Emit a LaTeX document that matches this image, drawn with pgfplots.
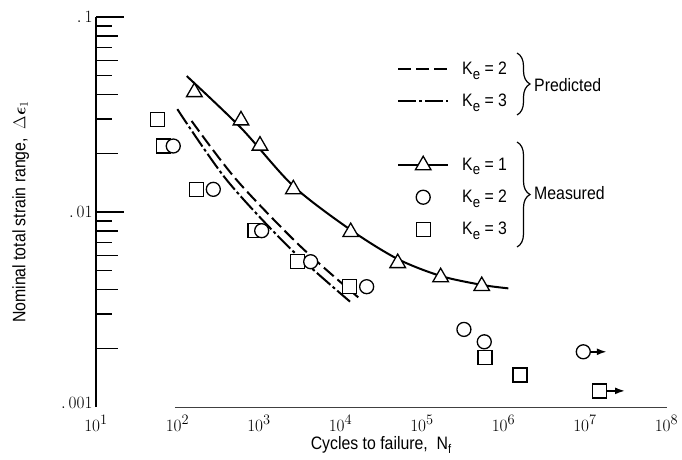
\documentclass[border=0pt]{standalone}
\usepackage{fontspec}
\setmainfont{Liberation Sans}[FakeStretch=0.88]
\usepackage{bm}
\usepackage{pgfplots}
\pgfplotsset{compat=1.18}
\usetikzlibrary{arrows.meta,decorations.pathreplacing}
\newcommand{\Ke}{K\raisebox{-0.45ex}{\fontsize{15}{15}\selectfont e}}
\begin{document}
\begin{tikzpicture}
\path[use as bounding box] (0pt,0pt) rectangle (682pt,459pt);
% overlay: x ticks and short minor y ticks
\begin{axis}[
  at={(96pt,52pt)}, anchor=south west,
  scale only axis, width=570.5pt, height=390pt,
  xmode=log, ymode=log,
  xmin=10, xmax=1e8, ymin=1e-3, ymax=0.1,
  axis lines*=left, tick align=inside, clip=false,
  axis line style={draw=none},
  xtick=\empty,
  minor xtick={100,1000,10000,100000,1000000,10000000,100000000},
  minor tick length=22pt,
  ytick={0.003,0.005,0.007,0.009,0.03,0.05,0.07,0.09},
  yticklabels={,,,,,,,},
  major tick length=16pt,
  yminorticks=false,
  tick style={line width=1.2pt, black},
]
\addplot[draw=none, forget plot] coordinates {(100,0.01)};
\end{axis}
\begin{axis}[
  at={(96pt,52pt)}, anchor=south west,
  scale only axis, width=570.5pt, height=390pt,
  xmode=log, ymode=log,
  xmin=10, xmax=1e8, ymin=1e-3, ymax=0.1,
  axis lines*=left, tick align=inside, clip=false,
  x axis line style={draw=none},
  y axis line style={line width=1.8pt},
  xtick={10,100,1000,10000,100000,1000000,10000000,100000000},
  xtick style={draw=none},
  xminorticks=false,
  ytick={0.01,0.1}, yticklabels={$.\,01$,$.\,1$},
  minor ytick={0.002,0.004,0.006,0.008,0.02,0.04,0.06,0.08},
  major tick length=28pt, minor tick length=22pt,
  ytick style={line width=1.2pt, black},
  extra y ticks={0.001}, extra y tick labels={$.\,001$},
  extra y tick style={major tick length=0pt, yticklabel style={yshift=4pt}},
  tick label style={font=\fontsize{19}{19}\selectfont},
  xticklabel style={yshift=-5pt},
  xlabel={Cycles to failure,\ \ N\textsubscript{f}},
  ylabel={Nominal total strain range,\ \ $\Delta\bm{\epsilon}_{1}$},
  label style={font=\fontsize{18}{20}\selectfont},
  xlabel style={at={(axis description cs:0.5,-0.098)}, anchor=center},
  ylabel style={at={(axis description cs:-0.132,0.5)}, anchor=center},
  legend style={draw=none, fill=none, at={(axis description cs:0.5276,0.8897)}, anchor=north west,
    font=\fontsize{18}{20}\selectfont, row sep=14pt, column sep=11pt, inner sep=0pt},
  legend cell align=left,
  legend image code/.code={\draw[mark repeat=2,mark phase=2,#1] plot coordinates {(0pt,0pt) (25pt,0pt) (50pt,0pt)};},
]
% legend entries
\addlegendimage{black, line width=2pt, dash pattern=on 13pt off 5pt}
\addlegendentry{\Ke{} = 2}
\addlegendimage{black, line width=2pt, dash pattern=on 18pt off 3pt on 3pt off 3pt}
\addlegendentry{\Ke{} = 3}
\addlegendimage{empty legend}
\addlegendentry{\vphantom{\Ke}}
\addlegendimage{black, line width=2pt, mark=triangle*, mark size=9pt, mark options={solid, fill=white, line width=1.3pt}}
\addlegendentry{\Ke{} = 1}
\addlegendimage{only marks, black, mark=*, mark size=7pt, mark options={fill=white, line width=1.3pt}}
\addlegendentry{\Ke{} = 2}
\addlegendimage{only marks, black, mark=square*, mark size=7pt, mark options={fill=white, line width=1.3pt}}
\addlegendentry{\Ke{} = 3}

% x axis line (starts just left of 10^2)
\draw[line width=0.8pt, black!75] (axis cs:93,0.001) -- (axis cs:1e8,0.001);

% predicted K_e = 2 (dashed)
\addplot[forget plot, black, line width=2pt, dash pattern=on 13pt off 5pt, smooth] coordinates {
 (149,0.0293) (532,0.01459) (3184,0.00670) (16520,0.00365)};
% predicted K_e = 3 (dash-dot)
\addplot[forget plot, black, line width=2pt, dash pattern=on 18pt off 3pt on 3pt off 3pt, smooth] coordinates {
 (99.5,0.0337) (402,0.01459) (2399,0.00652) (13090,0.00347)};
% measured K_e = 1 fitted curve
\addplot[forget plot, black, line width=2pt, smooth] coordinates {
 (129.7,0.0498) (601,0.0270) (2636,0.01359) (13340,0.00809) (50350,0.00574) (169400,0.00470) (540700,0.00423) (1146000,0.00406)};

% run-out arrows
\addplot[forget plot, black, line width=1.8pt, -{Latex[length=10pt,width=7pt]}] coordinates {(9.53e6,0.00192) (1.85e7,0.00192)};
\addplot[forget plot, black, line width=1.8pt, -{Latex[length=10pt,width=7pt]}] coordinates {(1.496e7,0.00121) (3.1e7,0.00121)};

% measured markers
\addplot[forget plot, only marks, black, mark=triangle*, mark size=9pt, mark options={fill=white, line width=1.3pt}] coordinates {
 (161,0.0412) (601,0.0295) (1028,0.0219) (2637,0.01307) (13340,0.00789) (50350,0.00547) (169400,0.00463) (540700,0.00417)};
\addplot[forget plot, only marks, black, mark=square*, mark size=7pt, mark options={fill=white, line width=1.3pt}] coordinates {
 (56.5,0.0299) (67,0.0218) (172,0.01307) (893,0.00802) (2951,0.00556) (12820,0.00414) (593000,0.00180) (1592000,0.00146) (14960000,0.00121)};
\addplot[forget plot, only marks, black, mark=*, mark size=7pt, mark options={fill=white, line width=1.3pt}] coordinates {
 (88.7,0.0218) (275,0.01307) (1079,0.00802) (4306,0.00556) (20940,0.00414) (327000,0.00250) (580700,0.00216) (9530000,0.00192)};
\end{axis}
% braces of the legend
\draw[line width=1.2pt, decorate, decoration={brace, amplitude=13pt}] (517pt,406pt) -- (517pt,344pt);
\node[anchor=west, inner sep=0pt, font=\fontsize{18}{20}\selectfont] at (534pt,374pt) {Predicted};
\draw[line width=1.2pt, decorate, decoration={brace, amplitude=13pt}] (517pt,317pt) -- (517pt,212pt);
\node[anchor=west, inner sep=0pt, font=\fontsize{18}{20}\selectfont] at (534pt,266pt) {Measured};
\end{tikzpicture}
\end{document}
